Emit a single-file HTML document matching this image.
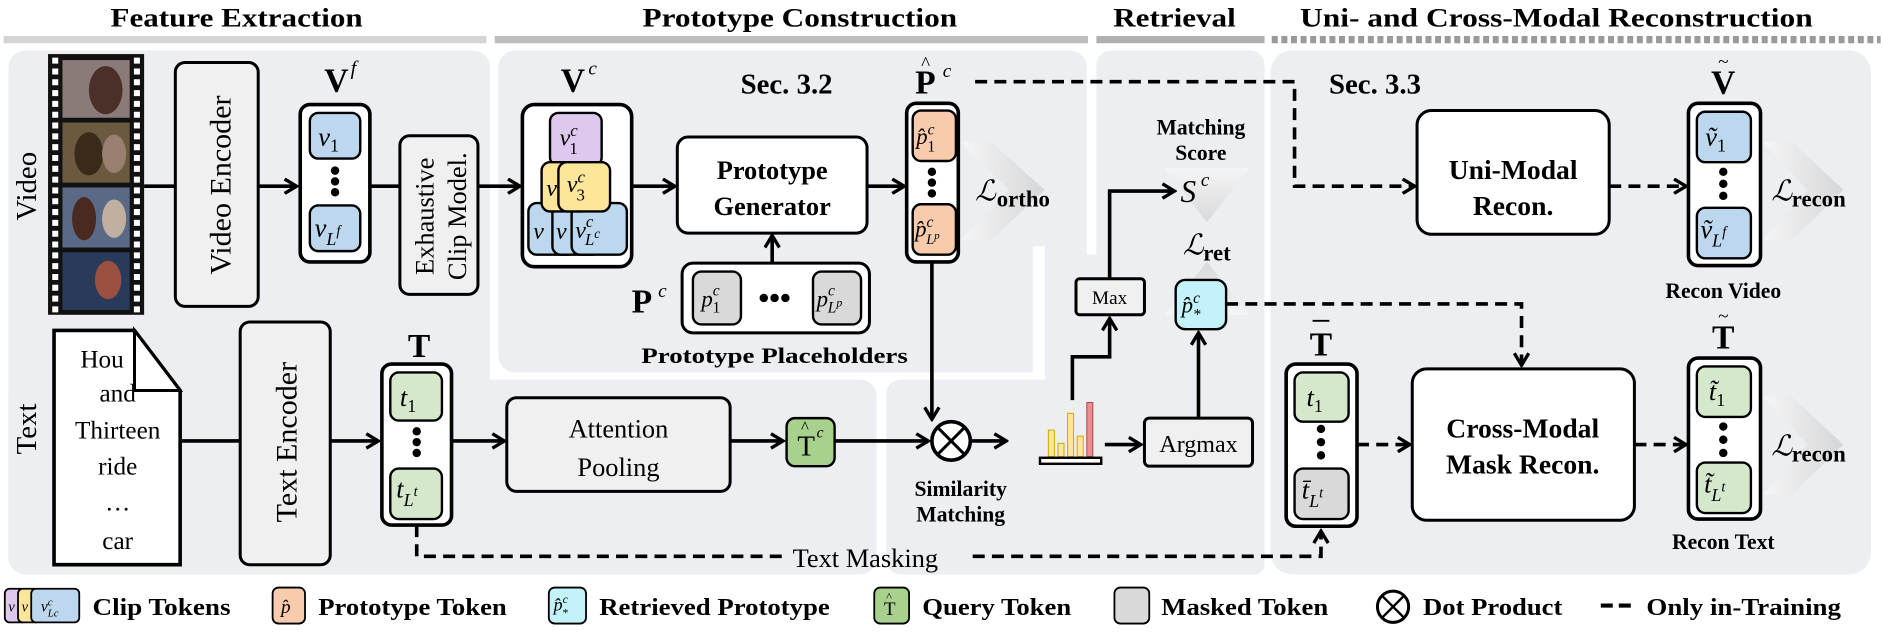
<!DOCTYPE html>
<html><head><meta charset="utf-8"><style>
html,body{margin:0;padding:0;background:#fff;}
svg{display:block;}
text{font-family:"Liberation Serif",serif;fill:#000;}
.b{font-weight:bold;}
.i{font-style:italic;}
</style></head><body>
<svg width="1883" height="638" viewBox="0 0 1568 531" preserveAspectRatio="none" xmlns="http://www.w3.org/2000/svg">
<defs>
<marker id="a" viewBox="0 0 14 14" refX="12" refY="7" markerWidth="14" markerHeight="14" orient="auto" markerUnits="userSpaceOnUse"><path d="M2,1 L12,7 L2,13" fill="none" stroke="#000" stroke-width="2.8"/></marker>
<linearGradient id="chv" x1="0" x2="1"><stop offset="0" stop-color="#f6f6f6"/><stop offset="1" stop-color="#d6d6d6"/></linearGradient>
<linearGradient id="chd" x1="0" x2="0" y1="0" y2="1"><stop offset="0" stop-color="#f6f6f6"/><stop offset="1" stop-color="#d6d6d6"/></linearGradient>
<linearGradient id="chu" x1="0" x2="0" y1="1" y2="0"><stop offset="0" stop-color="#f6f6f6"/><stop offset="1" stop-color="#d6d6d6"/></linearGradient>
</defs>

<!-- headers -->
<text x="197" y="22" class="b" font-size="22" text-anchor="middle" textLength="210" lengthAdjust="spacingAndGlyphs">Feature Extraction</text>
<text x="666" y="22" class="b" font-size="22" text-anchor="middle" textLength="262" lengthAdjust="spacingAndGlyphs">Prototype Construction</text>
<text x="978" y="22" class="b" font-size="22" text-anchor="middle" textLength="102" lengthAdjust="spacingAndGlyphs">Retrieval</text>
<text x="1296" y="22" class="b" font-size="22" text-anchor="middle" textLength="427" lengthAdjust="spacingAndGlyphs">Uni- and Cross-Modal Reconstruction</text>
<rect x="3" y="30" width="402" height="6" fill="#d4d4d4"/>
<rect x="412" y="30" width="494" height="6" fill="#bdbdbd"/>
<rect x="913" y="30" width="140" height="6" fill="#b0b0b0"/>
<line x1="1059" y1="33" x2="1566" y2="33" stroke="#9a9a9a" stroke-width="6" stroke-dasharray="5,3"/>

<!-- panels -->
<g fill="#eceef2">
<rect x="7" y="42" width="401" height="436" rx="14"/>
<rect x="7" y="316" width="723" height="162" rx="14"/>
<rect x="415" y="42" width="490" height="268" rx="14"/>
<rect x="913" y="42" width="140" height="436" rx="12"/>
<rect x="870" y="212" width="183" height="266" rx="8"/>
<rect x="738" y="316" width="200" height="162" rx="12"/>
<rect x="1058" y="42" width="500" height="436" rx="18"/>
</g>
<rect x="860" y="205" width="10" height="110" fill="#fff"/>
<rect x="730" y="310" width="8" height="168" fill="#fff"/>

<!-- side labels -->
<text transform="translate(30,155) rotate(-90)" font-size="24" text-anchor="middle">Video</text>
<text transform="translate(30,357) rotate(-90)" font-size="24" text-anchor="middle">Text</text>

<!-- film strip -->
<rect x="40" y="45" width="80" height="217" fill="#111"/>
<line x1="46" y1="48" x2="46" y2="260" stroke="#fff" stroke-width="5" stroke-dasharray="5,4"/>
<line x1="114" y1="48" x2="114" y2="260" stroke="#fff" stroke-width="5" stroke-dasharray="5,4"/>
<rect x="52" y="50" width="56" height="48" fill="#8a7a78"/>
<rect x="52" y="102" width="56" height="50" fill="#6b5a40"/>
<rect x="52" y="156" width="56" height="50" fill="#5a6a86"/>
<rect x="52" y="210" width="56" height="48" fill="#2a3a5a"/>
<ellipse cx="88" cy="75" rx="14" ry="20" fill="#4a3028"/>
<ellipse cx="74" cy="128" rx="12" ry="18" fill="#3a2a1a"/>
<ellipse cx="95" cy="128" rx="10" ry="16" fill="#9a8070"/>
<ellipse cx="70" cy="182" rx="10" ry="18" fill="#4a2a20"/>
<ellipse cx="95" cy="182" rx="10" ry="16" fill="#c0b0a0"/>
<ellipse cx="90" cy="233" rx="11" ry="16" fill="#9a5040"/>

<!-- video encoder -->
<line x1="120" y1="155" x2="146" y2="155" stroke="#000" stroke-width="3"/>
<rect x="146" y="52" width="69" height="203" rx="8" fill="#f0f0f0" stroke="#000" stroke-width="2.5"/>
<text transform="translate(192,154) rotate(-90)" font-size="25" text-anchor="middle">Video Encoder</text>
<line x1="215" y1="155" x2="247" y2="155" stroke="#000" stroke-width="3" marker-end="url(#a)"/>

<!-- Vf -->
<text x="270" y="76" class="b" font-size="28">V</text><text x="292" y="62" class="i" font-size="17">f</text>
<rect x="250" y="87" width="58" height="131" rx="8" fill="#fff" stroke="#000" stroke-width="3"/>
<rect x="258" y="94" width="42" height="38" rx="7" fill="#bdd7ee" stroke="#000" stroke-width="2"/>
<text x="265" y="121" class="i" font-size="22">v<tspan font-size="15" font-style="normal" dy="5">1</tspan></text>
<circle cx="279" cy="142" r="3.5"/><circle cx="279" cy="151" r="3.5"/><circle cx="279" cy="160" r="3.5"/>
<rect x="258" y="171" width="42" height="38" rx="7" fill="#bdd7ee" stroke="#000" stroke-width="2"/>
<text x="262" y="197" class="i" font-size="22">v<tspan font-size="15" dy="7">L</tspan><tspan font-size="12" dy="-8">f</tspan></text>
<line x1="308" y1="155" x2="333" y2="155" stroke="#000" stroke-width="3"/>
<rect x="333" y="113" width="65" height="132" rx="8" fill="#f0f0f0" stroke="#000" stroke-width="2.5"/>
<text transform="translate(361,180) rotate(-90)" font-size="22" text-anchor="middle">Exhaustive</text>
<text transform="translate(388,180) rotate(-90)" font-size="22" text-anchor="middle">Clip Model.</text>
<line x1="398" y1="155" x2="433" y2="155" stroke="#000" stroke-width="3" marker-end="url(#a)"/>

<!-- Vc -->
<text x="467" y="76" class="b" font-size="28">V</text><text x="490" y="62" class="i" font-size="16">c</text>
<text x="655" y="78" class="b" font-size="24" text-anchor="middle">Sec. 3.2</text>
<rect x="435" y="87" width="91" height="135" rx="10" fill="#fff" stroke="#000" stroke-width="3"/>
<rect x="458" y="94" width="43" height="44" rx="7" fill="#dfc8ee" stroke="#000" stroke-width="2"/>
<text x="466" y="121" class="i" font-size="20">v<tspan font-size="14" dy="-8">c</tspan><tspan font-size="14" font-style="normal" dx="-7" dy="15">1</tspan></text>
<rect x="440" y="169" width="40" height="43" rx="7" fill="#bdd7ee" stroke="#000" stroke-width="2"/>
<rect x="460" y="169" width="40" height="43" rx="7" fill="#bdd7ee" stroke="#000" stroke-width="2"/>
<text x="444" y="199" class="i" font-size="20">v</text><text x="463" y="199" class="i" font-size="20">v</text>
<rect x="476" y="169" width="46" height="43" rx="7" fill="#bdd7ee" stroke="#000" stroke-width="2"/>
<text x="479" y="198" class="i" font-size="20">v<tspan font-size="14" dy="-9">c</tspan><tspan font-size="14" dx="-7" dy="15">L</tspan><tspan font-size="11" dy="-6">c</tspan></text>
<rect x="451" y="135" width="40" height="41" rx="7" fill="#fde699" stroke="#000" stroke-width="2"/>
<text x="455" y="163" class="i" font-size="20">v</text>
<rect x="465" y="135" width="43" height="41" rx="7" fill="#fde699" stroke="#000" stroke-width="2"/>
<text x="472" y="160" class="i" font-size="20">v<tspan font-size="14" dy="-8">c</tspan><tspan font-size="14" font-style="normal" dx="-7" dy="15">3</tspan></text>
<line x1="526" y1="155" x2="562" y2="155" stroke="#000" stroke-width="3" marker-end="url(#a)"/>

<!-- Prototype generator -->
<rect x="564" y="114" width="158" height="80" rx="9" fill="#fff" stroke="#000" stroke-width="2.5"/>
<text x="643" y="149" class="b" font-size="22" text-anchor="middle">Prototype</text>
<text x="643" y="179" class="b" font-size="22" text-anchor="middle">Generator</text>
<line x1="643" y1="219" x2="643" y2="196" stroke="#000" stroke-width="3" marker-end="url(#a)"/>
<text x="526" y="260" class="b" font-size="28">P</text><text x="548" y="247" class="i" font-size="16">c</text>
<rect x="568" y="219" width="156" height="58" rx="9" fill="#fff" stroke="#000" stroke-width="2.5"/>
<rect x="577" y="226" width="40" height="44" rx="7" fill="#d9d9d9" stroke="#000" stroke-width="2"/>
<text x="584" y="255" class="i" font-size="19">p<tspan font-size="13" dy="-9">c</tspan><tspan font-size="13" font-style="normal" dx="-6" dy="14">1</tspan></text>
<circle cx="636" cy="248" r="3.5"/><circle cx="645" cy="248" r="3.5"/><circle cx="654" cy="248" r="3.5"/>
<rect x="677" y="226" width="40" height="44" rx="7" fill="#d9d9d9" stroke="#000" stroke-width="2"/>
<text x="680" y="255" class="i" font-size="19">p<tspan font-size="13" dy="-9">c</tspan><tspan font-size="13" dx="-6" dy="14">L</tspan><tspan font-size="10" dy="-5">p</tspan></text>
<text x="645" y="302" class="b" font-size="18" text-anchor="middle" textLength="222" lengthAdjust="spacingAndGlyphs">Prototype Placeholders</text>
<line x1="722" y1="155" x2="753" y2="155" stroke="#000" stroke-width="3" marker-end="url(#a)"/>

<!-- P hat -->
<text x="762" y="78" class="b" font-size="28">P</text><text x="767" y="58" font-size="16">^</text><text x="785" y="64" class="i" font-size="16">c</text>
<rect x="755" y="86" width="43" height="132" rx="8" fill="#fff" stroke="#000" stroke-width="3"/>
<rect x="760" y="92" width="36" height="42" rx="7" fill="#f8cbad" stroke="#000" stroke-width="2"/>
<text x="763" y="120" class="i" font-size="19">p̂<tspan font-size="13" dy="-8">c</tspan><tspan font-size="13" font-style="normal" dx="-6" dy="14">1</tspan></text>
<circle cx="776" cy="143" r="3.5"/><circle cx="776" cy="152" r="3.5"/><circle cx="776" cy="161" r="3.5"/>
<rect x="760" y="170" width="36" height="42" rx="7" fill="#f8cbad" stroke="#000" stroke-width="2"/>
<text x="762" y="197" class="i" font-size="19">p̂<tspan font-size="13" dy="-8">c</tspan><tspan font-size="12" dx="-6" dy="14">L</tspan><tspan font-size="9" dy="-4">p</tspan></text>
<polygon points="800,118 825,118 870,158 825,200 800,200 840,158" fill="url(#chv)"/>
<text x="812" y="167" class="i" font-size="24">ℒ</text><text x="830" y="172" class="b" font-size="19">ortho</text>

<!-- dashed P hat to uni-modal -->
<path d="M812,68 L1078,68 L1078,155 L1178,155" fill="none" stroke="#000" stroke-width="3" stroke-dasharray="10,6" marker-end="url(#a)"/>

<!-- text row -->
<path d="M45,275 L112,275 L150,325 L150,470 L45,470 Z" fill="#fff" stroke="#000" stroke-width="3"/>
<g font-size="21" text-anchor="middle">
<text x="85" y="306">Hou</text><text x="98" y="334">and</text><text x="98" y="365">Thirteen</text><text x="98" y="395">ride</text><text x="98" y="425">…</text><text x="98" y="457">car</text>
</g>
<path d="M112,275 L112,325 L150,325 Z" fill="#fff" stroke="#000" stroke-width="2.5"/>
<line x1="150" y1="367" x2="200" y2="367" stroke="#000" stroke-width="3"/>
<rect x="200" y="268" width="75" height="202" rx="8" fill="#f0f0f0" stroke="#000" stroke-width="2.5"/>
<text transform="translate(247,368) rotate(-90)" font-size="25" text-anchor="middle">Text Encoder</text>
<line x1="275" y1="367" x2="315" y2="367" stroke="#000" stroke-width="3" marker-end="url(#a)"/>

<text x="349" y="297" class="b" font-size="28" text-anchor="middle">T</text>
<rect x="318" y="303" width="58" height="134" rx="8" fill="#fff" stroke="#000" stroke-width="3"/>
<rect x="325" y="310" width="43" height="40" rx="7" fill="#d5e8cc" stroke="#000" stroke-width="2"/>
<text x="333" y="338" class="i" font-size="22">t<tspan font-size="15" font-style="normal" dy="5">1</tspan></text>
<circle cx="347" cy="359" r="3.5"/><circle cx="347" cy="368" r="3.5"/><circle cx="347" cy="377" r="3.5"/>
<rect x="325" y="390" width="43" height="42" rx="7" fill="#d5e8cc" stroke="#000" stroke-width="2"/>
<text x="330" y="414" class="i" font-size="22">t<tspan font-size="15" dy="7">L</tspan><tspan font-size="12" dy="-8">t</tspan></text>
<line x1="376" y1="367" x2="420" y2="367" stroke="#000" stroke-width="3" marker-end="url(#a)"/>
<rect x="422" y="331" width="186" height="78" rx="8" fill="#f0f0f0" stroke="#000" stroke-width="2.5"/>
<text x="515" y="364" font-size="22" text-anchor="middle">Attention</text>
<text x="515" y="396" font-size="22" text-anchor="middle">Pooling</text>
<line x1="608" y1="367" x2="652" y2="367" stroke="#000" stroke-width="3" marker-end="url(#a)"/>
<rect x="655" y="348" width="40" height="40" rx="7" fill="#a9d18e" stroke="#000" stroke-width="2"/>
<text x="664" y="379" font-size="24">T</text><text x="667" y="360" font-size="14">^</text><text x="680" y="364" class="i" font-size="13">c</text>
<line x1="695" y1="367" x2="773" y2="367" stroke="#000" stroke-width="3" marker-end="url(#a)"/>
<line x1="776" y1="218" x2="776" y2="349" stroke="#000" stroke-width="3" marker-end="url(#a)"/>
<circle cx="792" cy="367" r="16" fill="#fff" stroke="#000" stroke-width="3"/>
<line x1="781" y1="356" x2="803" y2="378" stroke="#000" stroke-width="2.5"/><line x1="803" y1="356" x2="781" y2="378" stroke="#000" stroke-width="2.5"/>
<text x="800" y="413" class="b" font-size="18" text-anchor="middle">Similarity</text>
<text x="800" y="434" class="b" font-size="18" text-anchor="middle">Matching</text>
<line x1="808" y1="367" x2="838" y2="367" stroke="#000" stroke-width="3" marker-end="url(#a)"/>

<!-- Text masking -->
<path d="M347,437 L347,463 L655,463" fill="none" stroke="#000" stroke-width="3" stroke-dasharray="10,6"/>
<text x="660" y="472" font-size="22">Text Masking</text>
<path d="M810,463 L1100,463 L1100,442" fill="none" stroke="#000" stroke-width="3" stroke-dasharray="10,6" marker-end="url(#a)"/>

<!-- bar chart -->
<rect x="873" y="358" width="5" height="22" fill="#ffe699" stroke="#c9a800" stroke-width="0.8"/>
<rect x="881" y="369" width="5" height="11" fill="#ffe699" stroke="#c9a800" stroke-width="0.8"/>
<rect x="889" y="344" width="5" height="36" fill="#ffe699" stroke="#c9a800" stroke-width="0.8"/>
<rect x="897" y="363" width="5" height="17" fill="#ffe699" stroke="#c9a800" stroke-width="0.8"/>
<rect x="905" y="335" width="5" height="45" fill="#ea8f8f" stroke="#b04040" stroke-width="0.8"/>
<rect x="866" y="381" width="51" height="5" fill="#fff" stroke="#000" stroke-width="2"/>
<line x1="920" y1="370" x2="950" y2="370" stroke="#000" stroke-width="3" marker-end="url(#a)"/>
<rect x="953" y="348" width="90" height="40" rx="4" fill="#f0f0f0" stroke="#000" stroke-width="2.5"/>
<text x="998" y="376" font-size="20" text-anchor="middle">Argmax</text>
<line x1="998" y1="348" x2="998" y2="277" stroke="#000" stroke-width="3" marker-end="url(#a)"/>
<path d="M893,333 L893,297 L924,297 L924,265" fill="none" stroke="#000" stroke-width="3" marker-end="url(#a)"/>
<rect x="896" y="232" width="57" height="30" rx="3" fill="#f0f0f0" stroke="#000" stroke-width="2.5"/>
<text x="924" y="253" font-size="16" text-anchor="middle">Max</text>
<path d="M924,232 L924,159 L978,159" fill="none" stroke="#000" stroke-width="3" marker-end="url(#a)"/>

<polygon points="970,140 1040,140 1005,185" fill="url(#chd)" opacity="0.9"/>
<text x="1000" y="112" class="b" font-size="18" text-anchor="middle">Matching</text>
<text x="1000" y="133" class="b" font-size="18" text-anchor="middle">Score</text>
<text x="983" y="168" class="i" font-size="26">S</text><text x="1000" y="155" class="i" font-size="16">c</text>
<polygon points="1005,218 970,262 1040,262" fill="url(#chu)" opacity="0.9"/>
<text x="985" y="212" class="i" font-size="24">ℒ</text><text x="1002" y="217" class="b" font-size="19">ret</text>
<rect x="979" y="233" width="42" height="41" rx="8" fill="#c4f2fa" stroke="#000" stroke-width="2"/>
<text x="984" y="260" class="i" font-size="19">p̂<tspan font-size="13" dy="-8">c</tspan><tspan font-size="13" dx="-6" dy="14">*</tspan></text>
<path d="M1021,253 L1267,253 L1267,304" fill="none" stroke="#000" stroke-width="3" stroke-dasharray="10,6" marker-end="url(#a)"/>

<!-- reconstruction -->
<text x="1145" y="78" class="b" font-size="24" text-anchor="middle">Sec. 3.3</text>
<rect x="1180" y="92" width="160" height="103" rx="12" fill="#fff" stroke="#000" stroke-width="2.5"/>
<text x="1260" y="149" class="b" font-size="23" text-anchor="middle">Uni-Modal</text>
<text x="1260" y="179" class="b" font-size="23" text-anchor="middle">Recon.</text>
<line x1="1340" y1="155" x2="1404" y2="155" stroke="#000" stroke-width="3" stroke-dasharray="10,6" marker-end="url(#a)"/>

<text x="1435" y="78" class="b" font-size="28" text-anchor="middle">V</text><text x="1435" y="56" font-size="16" text-anchor="middle">~</text>
<rect x="1406" y="86" width="60" height="135" rx="8" fill="#fff" stroke="#000" stroke-width="3"/>
<rect x="1413" y="93" width="45" height="42" rx="7" fill="#bdd7ee" stroke="#000" stroke-width="2"/>
<text x="1420" y="121" class="i" font-size="22">ṽ<tspan font-size="15" font-style="normal" dy="5">1</tspan></text>
<circle cx="1435" cy="143" r="3.5"/><circle cx="1435" cy="153" r="3.5"/><circle cx="1435" cy="163" r="3.5"/>
<rect x="1413" y="173" width="45" height="42" rx="7" fill="#bdd7ee" stroke="#000" stroke-width="2"/>
<text x="1416" y="198" class="i" font-size="22">ṽ<tspan font-size="15" dy="7">L</tspan><tspan font-size="12" dy="-8">f</tspan></text>
<polygon points="1468,118 1492,118 1535,158 1492,200 1468,200 1505,158" fill="url(#chv)"/>
<text x="1475" y="167" class="i" font-size="24">ℒ</text><text x="1492" y="172" class="b" font-size="19">recon</text>
<text x="1435" y="248" class="b" font-size="18" text-anchor="middle">Recon Video</text>

<text x="1100" y="296" class="b" font-size="28" text-anchor="middle">T</text><line x1="1093" y1="267" x2="1107" y2="267" stroke="#000" stroke-width="1.5"/>
<rect x="1071" y="303" width="59" height="135" rx="8" fill="#fff" stroke="#000" stroke-width="3"/>
<rect x="1078" y="310" width="45" height="41" rx="7" fill="#d5e8cc" stroke="#000" stroke-width="2"/>
<text x="1088" y="338" class="i" font-size="22">t<tspan font-size="15" font-style="normal" dy="5">1</tspan></text>
<circle cx="1100" cy="357" r="3.5"/><circle cx="1100" cy="368" r="3.5"/><circle cx="1100" cy="379" r="3.5"/>
<rect x="1078" y="390" width="45" height="42" rx="7" fill="#d9d9d9" stroke="#000" stroke-width="2"/>
<text x="1084" y="415" class="i" font-size="22">t̄<tspan font-size="15" dy="7">L</tspan><tspan font-size="12" dy="-8">t</tspan></text>
<line x1="1130" y1="370" x2="1174" y2="370" stroke="#000" stroke-width="3" stroke-dasharray="10,6" marker-end="url(#a)"/>
<rect x="1176" y="307" width="185" height="126" rx="12" fill="#fff" stroke="#000" stroke-width="2.5"/>
<text x="1268" y="364" class="b" font-size="23" text-anchor="middle">Cross-Modal</text>
<text x="1268" y="394" class="b" font-size="23" text-anchor="middle">Mask Recon.</text>
<line x1="1361" y1="370" x2="1404" y2="370" stroke="#000" stroke-width="3" stroke-dasharray="10,6" marker-end="url(#a)"/>

<text x="1435" y="290" class="b" font-size="28" text-anchor="middle">T</text><text x="1435" y="268" font-size="16" text-anchor="middle">~</text>
<rect x="1406" y="298" width="60" height="134" rx="8" fill="#fff" stroke="#000" stroke-width="3"/>
<rect x="1413" y="305" width="45" height="42" rx="7" fill="#d5e8cc" stroke="#000" stroke-width="2"/>
<text x="1423" y="333" class="i" font-size="22">t̃<tspan font-size="15" font-style="normal" dy="5">1</tspan></text>
<circle cx="1435" cy="355" r="3.5"/><circle cx="1435" cy="366" r="3.5"/><circle cx="1435" cy="377" r="3.5"/>
<rect x="1413" y="385" width="45" height="42" rx="7" fill="#d5e8cc" stroke="#000" stroke-width="2"/>
<text x="1419" y="410" class="i" font-size="22">t̃<tspan font-size="15" dy="7">L</tspan><tspan font-size="12" dy="-8">t</tspan></text>
<polygon points="1468,330 1492,330 1535,370 1492,412 1468,412 1505,370" fill="url(#chv)"/>
<text x="1475" y="379" class="i" font-size="24">ℒ</text><text x="1492" y="384" class="b" font-size="19">recon</text>
<text x="1435" y="457" class="b" font-size="18" text-anchor="middle">Recon Text</text>

<!-- legend -->
<rect x="4" y="490" width="18" height="28" rx="4" fill="#dfc8ee" stroke="#000" stroke-width="1.5"/>
<rect x="15" y="490" width="18" height="28" rx="4" fill="#fde699" stroke="#000" stroke-width="1.5"/>
<rect x="26" y="490" width="40" height="28" rx="4" fill="#bdd7ee" stroke="#000" stroke-width="1.5"/>
<text x="7" y="509" class="i" font-size="12">v</text><text x="18" y="509" class="i" font-size="12">v</text><text x="34" y="509" class="i" font-size="13">v<tspan font-size="9" dy="-5">c</tspan><tspan font-size="9" dx="-4" dy="9">Lc</tspan></text>
<text x="77" y="512" class="b" font-size="20" textLength="115" lengthAdjust="spacingAndGlyphs">Clip Tokens</text>
<rect x="227" y="489" width="27" height="30" rx="5" fill="#f8cbad" stroke="#000" stroke-width="1.5"/>
<text x="234" y="510" class="i" font-size="16">p̂</text>
<text x="265" y="512" class="b" font-size="20" textLength="157" lengthAdjust="spacingAndGlyphs">Prototype Token</text>
<rect x="457" y="489" width="31" height="30" rx="5" fill="#c4f2fa" stroke="#000" stroke-width="1.5"/>
<text x="461" y="508" class="i" font-size="15">p̂<tspan font-size="10" dy="-6">c</tspan><tspan font-size="10" dx="-5" dy="11">*</tspan></text>
<text x="499" y="512" class="b" font-size="20" textLength="192" lengthAdjust="spacingAndGlyphs">Retrieved Prototype</text>
<rect x="728" y="489" width="29" height="30" rx="5" fill="#a9d18e" stroke="#000" stroke-width="1.5"/>
<text x="736" y="512" font-size="16">T</text><text x="738" y="500" font-size="10">^</text>
<text x="768" y="512" class="b" font-size="20" textLength="124" lengthAdjust="spacingAndGlyphs">Query Token</text>
<rect x="928" y="489" width="29" height="30" rx="5" fill="#d9d9d9" stroke="#000" stroke-width="1.5"/>
<text x="967" y="512" class="b" font-size="20" textLength="139" lengthAdjust="spacingAndGlyphs">Masked Token</text>
<circle cx="1160" cy="505" r="13" fill="#fff" stroke="#000" stroke-width="2.5"/>
<line x1="1151" y1="496" x2="1169" y2="514" stroke="#000" stroke-width="2"/><line x1="1169" y1="496" x2="1151" y2="514" stroke="#000" stroke-width="2"/>
<text x="1185" y="512" class="b" font-size="20" textLength="116" lengthAdjust="spacingAndGlyphs">Dot Product</text>
<line x1="1333" y1="504" x2="1360" y2="504" stroke="#000" stroke-width="3.5" stroke-dasharray="10,5"/>
<text x="1371" y="512" class="b" font-size="20" textLength="162" lengthAdjust="spacingAndGlyphs">Only in-Training</text>
</svg>
</body></html>
